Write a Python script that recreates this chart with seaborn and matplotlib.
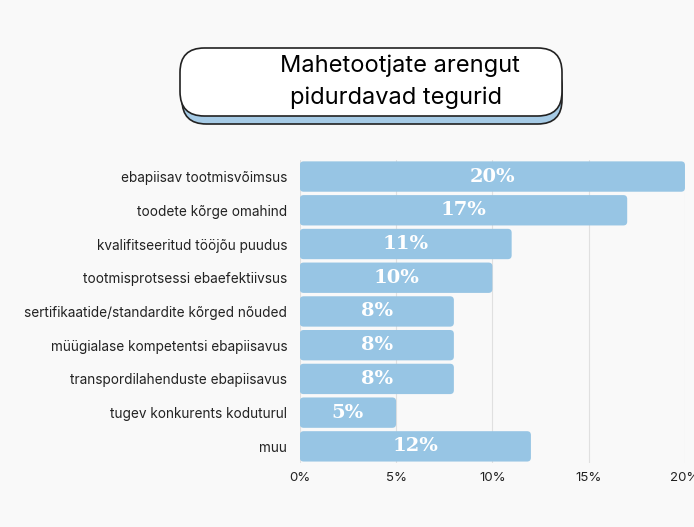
import matplotlib
matplotlib.use("Agg")
import matplotlib.pyplot as plt
import seaborn as sns
import pandas as pd
from matplotlib.patches import FancyBboxPatch

# Data
categories = [
    "ebapiisav tootmisvõimsus",
    "toodete kõrge omahind",
    "kvalifitseeritud tööjõu puudus",
    "tootmisprotsessi ebaefektiivsus",
    "sertifikaatide/standardite kõrged nõuded",
    "müügialase kompetentsi ebapiisavus",
    "transpordilahenduste ebapiisavus",
    "tugev konkurents koduturul",
    "muu",
]
values = [20, 17, 11, 10, 8, 8, 8, 5, 12]
x_ticks = [0, 5, 10, 15, 20]
x_tick_labels = ["0%", "5%", "10%", "15%", "20%"]
title_lines = ["Mahetootjate arengut", "pidurdavad tegurid"]

bg = "#f9f9f9"
bar_color = "#97c5e4"

sns.set_style("whitegrid")
plt.rcParams["font.family"] = ["Inter", "DejaVu Sans"]

df = pd.DataFrame({"category": categories, "value": values})

fig = plt.figure(figsize=(6.94, 5.27), dpi=100)
fig.patch.set_facecolor(bg)
ax = fig.add_axes([0.432, 0.121, 0.555, 0.576])
ax.set_facecolor(bg)

sns.barplot(data=df, x="value", y="category", color=bar_color, saturation=1,
            width=0.9, ax=ax)

# Replace plain bars with rounded ones
old = list(ax.patches)
for p in old:
    x0, y0 = p.get_x(), p.get_y()
    w, h = p.get_width(), p.get_height()
    p.remove()
    rb = FancyBboxPatch((x0, y0), w, h, boxstyle="round,pad=0,rounding_size=0.2",
                        mutation_aspect=0.57, facecolor=bar_color, edgecolor="none",
                        zorder=2)
    ax.add_patch(rb)
    ax.text(x0 + w / 2, y0 + h / 2, f"{int(w)}%", ha="center", va="center",
            color="white", fontsize=14, fontweight="bold",
            family="DejaVu Serif", zorder=3)

ax.set_xlim(0, 20)
ax.set_ylim(len(categories) - 0.5, -0.5)
ax.set_xticks(x_ticks)
ax.set_xticklabels(x_tick_labels, fontsize=9.5, color="#222222")
ax.tick_params(axis="y", labelsize=9.8, colors="#222222", length=0, pad=9)
ax.tick_params(axis="x", length=0, pad=6)
ax.set_xlabel("")
ax.set_ylabel("")
ax.grid(axis="x", color="#e0e0e0", linewidth=0.8, zorder=0)
ax.grid(axis="y", visible=False)
ax.set_axisbelow(True)
for s in ax.spines.values():
    s.set_visible(False)

# Title box with blue shadow
shadow = FancyBboxPatch((182 / 694, 1 - 124 / 527), 380 / 694, 62 / 527,
                        boxstyle="round,pad=0,rounding_size=0.035",
                        transform=fig.transFigure, facecolor="#a6cbe6",
                        edgecolor="#222222", linewidth=1.2, zorder=1,
                        mutation_aspect=694 / 527)
box = FancyBboxPatch((180 / 694, 1 - 116 / 527), 382 / 694, 68 / 527,
                     boxstyle="round,pad=0,rounding_size=0.035",
                     transform=fig.transFigure, facecolor="white",
                     edgecolor="#222222", linewidth=1.2, zorder=2,
                     mutation_aspect=694 / 527)
fig.patches.extend([shadow, box])
fig.text(400 / 694, 1 - 66 / 527, title_lines[0], ha="center", va="center",
         fontsize=17, color="#000000", zorder=3)
fig.text(396 / 694, 1 - 98 / 527, title_lines[1], ha="center", va="center",
         fontsize=17, color="#000000", zorder=3)

fig.savefig("out.png", dpi=100, facecolor=bg)
